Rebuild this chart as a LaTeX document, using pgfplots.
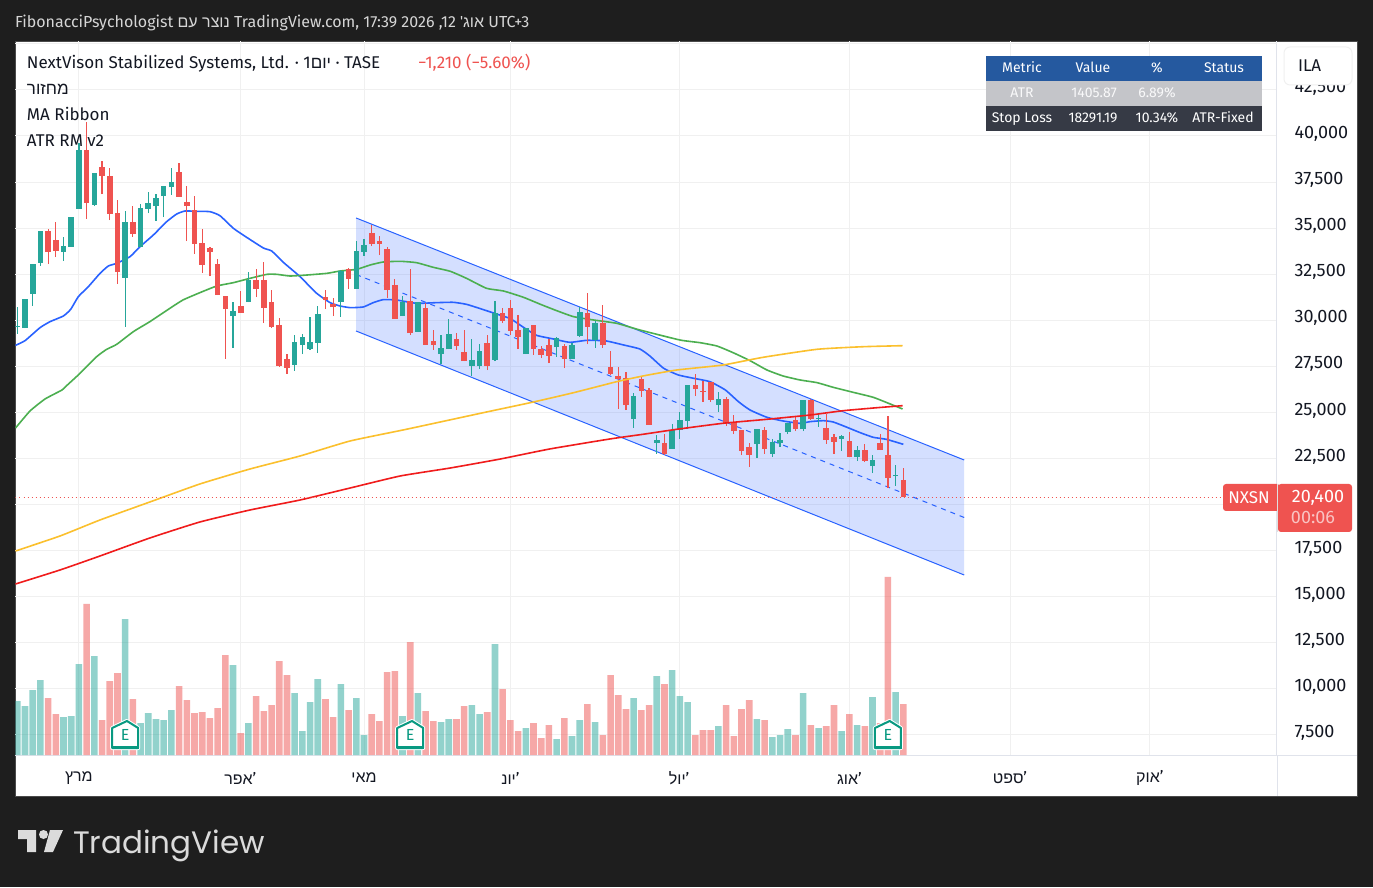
\documentclass[border=0pt]{standalone}
\usepackage{fontspec}
\usepackage{pgfplots}
\usepackage{pgfplotstable}
\pgfplotsset{compat=1.18}
\setmainfont{Fira Sans}
\newfontfamily\hebfont[Script=Hebrew]{Liberation Sans}
\newfontfamily\logofont{Poppins}
\TeXXeTstate=1
\newcommand\heb[1]{{\hebfont\beginR #1\endR}}
\newcommand\fs[1]{\fontsize{#1}{#1}\selectfont}

\definecolor{page}{HTML}{1E1E1E}
\definecolor{frame}{HTML}{4A4A4A}
\definecolor{gridc}{HTML}{F0F0F0}
\definecolor{sep}{HTML}{E0E3EB}
\definecolor{ink}{HTML}{131722}
\definecolor{tvred}{HTML}{EF5350}
\definecolor{tvteal}{HTML}{26A69A}
\definecolor{mablue}{HTML}{2962FF}
\definecolor{magreen}{HTML}{4CAF50}
\definecolor{mayellow}{HTML}{FBC02D}
\definecolor{mared}{HTML}{F01C1C}
\definecolor{earn}{HTML}{089981}
\definecolor{tabblue}{HTML}{25599F}
\definecolor{tabgrey}{HTML}{C4C5C9}
\definecolor{tabdark}{HTML}{363A45}

% i open high low close volume (volume as bar height)
\pgfplotstableread{
i o h l c v
0 29640 30740 29260 29690 54
1 29580 31155 29580 31155 49
2 31430 33050 30780 33050 65
3 33110 34850 32950 34850 75
6 33700 34520 33220 34030 38
7 33980 35600 33980 35600 39
8 36040 39620 36040 39240 91
10 36260 37990 36200 37990 99
14 32300 35930 29640 35330 136
16 33980 36310 33980 36090 32
17 36040 36960 35820 36360 42
18 36200 36850 35390 36640 36
19 36740 37290 35600 37290 35
20 37230 38260 36800 37500 45
28 30230 30990 28500 30500 90
30 30990 32620 30990 32190 32
36 27570 29200 27250 28820 62
37 28660 29260 28170 29090 24
38 28440 30180 28390 28820 53
39 28770 30780 28230 30340 76
42 30990 32730 30180 32680 71
44 31700 34300 31700 33760 57
45 33710 34410 33490 34090 20
50 30230 31320 30230 31010 39
52 29370 30990 29370 30990 62
55 28170 29200 27630 28500 33
56 28440 30070 28440 29260 36
59 27520 28980 26980 27850 50
60 27520 28710 27360 28330 41
62 27850 31050 27790 30400 111
66 28170 29580 28170 29580 27
70 28550 29090 28010 29040 16
72 27900 28770 27900 28660 19
73 29150 30720 29090 30450 35
75 28930 29960 28500 29850 33
80 24640 26060 24160 25890 57
83 23340 23780 22750 23510 79
85 23020 24370 23020 24050 85
86 24050 25020 23560 24590 59
87 24540 26490 24100 26490 53
91 25400 26110 25020 25730 29
96 23290 24100 22530 24100 36
98 22750 23560 22580 23400 18
99 23340 23890 23130 23510 20
100 23940 24430 23830 24430 26
102 24100 25680 23990 25680 62
104 24640 24970 24210 24700 27
107 23560 23780 22910 23720 24
109 22580 23180 22370 22960 30
111 22090 22690 21710 22420 58
114 21550 22150 21010 21610 63
}\upbars

\pgfplotstableread{
i o h l c v
4 34850 34950 33050 33700 57
5 34360 35330 33430 33760 41
9 39240 40760 35500 36360 151
11 38320 38640 36850 37830 35
12 37830 38260 35440 35770 74
13 35820 36530 31970 32620 82
15 35330 36200 34520 34680 56
21 38050 38530 36690 36690 69
22 36420 37290 34300 36200 55
23 35980 36740 33600 34140 42
24 34190 34950 32570 33000 43
25 33920 33980 32400 33700 37
26 33050 33330 31370 31370 47
27 31320 31320 27900 30610 100
29 30780 31590 30400 30400 22
31 32190 32780 31260 31700 59
32 32190 33160 29850 30670 44
33 30990 31640 29580 29640 50
34 29740 30120 27470 27520 94
35 27900 28170 27090 27410 80
40 31260 31640 30610 31100 56
41 30880 31210 30230 30720 38
43 32780 32840 31700 32240 45
46 34740 35170 34030 34140 41
47 34300 34570 33540 34140 34
48 33870 33980 31210 31640 83
49 31920 32240 30070 30070 84
51 31050 32780 29200 29310 113
53 30670 30940 28660 28660 44
54 28880 29470 28390 28660 34
57 28980 29310 28390 28610 36
58 28280 29470 27790 27790 49
61 28770 29200 27300 27520 43
63 30400 30670 29850 29960 66
64 30670 31100 29200 29420 35
65 29470 30290 28440 29090 24
67 29750 29750 28120 28440 32
68 28440 28610 27950 28120 17
69 28660 28980 27680 28060 30
71 28610 28710 27410 27900 37
74 30400 31480 28710 29640 51
76 29850 30830 28500 28660 20
77 27470 28330 27030 27090 80
78 26980 27470 25190 26820 60
79 26870 27180 25130 25400 46
81 26820 26920 25840 26160 45
82 26220 26330 24320 24320 50
84 23340 23830 22690 22750 71
88 26490 27090 25890 26270 20
89 26160 26710 25570 26110 25
90 26650 26650 25570 25680 25
92 25730 25840 24270 24430 50
93 24480 24860 23830 23990 19
94 24050 24050 22690 22910 46
95 23130 23340 22040 22690 55
97 24050 24210 22750 23020 35
101 24590 24750 23990 24100 20
103 25680 25730 24590 24640 30
105 24160 24920 23290 23510 29
106 23670 23830 22750 23400 50
108 23450 23940 22580 22580 41
110 22960 23290 22310 22370 29
112 23340 23830 22960 22960 32
113 22690 24810 20900 21440 178
115 21340 21990 20400 20400 51
}\downbars

\pgfdeclareplotmark{earnmark}{%
  \draw[white,fill=white,line width=4pt,line join=round] (0,14pt)--(13pt,7pt)--(13pt,-13pt)--(-13pt,-13pt)--(-13pt,7pt)--cycle;
  \draw[earn,fill=white,line width=2pt,line join=round] (0,14pt)--(13pt,7pt)--(13pt,-13pt)--(-13pt,-13pt)--(-13pt,7pt)--cycle;
  \fill[earn] (-13pt,-13pt) rectangle (13pt,-11pt);
}

\begin{document}
\begin{tikzpicture}[x=1pt,y=1pt]
  \useasboundingbox (0,0) rectangle (1373,887);
  \fill[page] (0,0) rectangle (1373,887);
  \fill[white,draw=frame,line width=1pt] (15.5,91) rectangle (1357.5,845.5);

  \begin{axis}[
      at={(15.5pt,132pt)}, anchor=south west,
      scale only axis, width=1261.5pt, height=713.5pt,
      xmin=-0.234, xmax=163.5, ymin=6413, ymax=45127,
      axis x line*=bottom, axis y line*=right,
      axis line style={draw=sep,line width=1pt,-},
      major tick length=0pt,
      grid=major, grid style={draw=gridc,line width=1pt},
      xtick={8,28.95,45,64,85.9,108,128.85,147},
      xticklabels={\heb{מרץ},\heb{אפר}',\heb{מאי},\heb{יונ}',\heb{יול}',\heb{אוג}',\heb{ספט}',\heb{אוק}'},
      xticklabel style={anchor=center,yshift=-23pt,font=\fs{16},text=ink},
      ytick={7500,10000,...,42500},
      extra y ticks={45000}, extra y tick labels={},
      yticklabel style={anchor=west,xshift=14pt,yshift=2pt,font=\fs{18},text=ink},
      scaled y ticks=false,
      /pgf/number format/.cd,1000 sep={,},assume math mode=true,
    ]
    % regression channel
    \addplot[draw=none,fill=mablue,fill opacity=0.2] coordinates {(43.97,35551)(122.9,22420)(122.9,16180)(43.97,29419)} -- cycle;
    \addplot[mablue,line width=1pt] coordinates {(43.97,35551)(122.9,22420)};
    \addplot[mablue,line width=1pt] coordinates {(43.97,29419)(122.9,16180)};
    \addplot[mablue,line width=1pt,dash pattern=on 5pt off 5pt] coordinates {(43.97,32485)(122.9,19300)};

    % moving averages
    \addplot[mablue,line width=1.6pt,smooth,tension=0.3] coordinates {(-0.23,28641)(1.0,28894)(2.95,29600)(4.25,29925)(5.98,30233)(6.93,30594)(7.92,31282)(9.22,31824)(10.74,32548)(11.82,32946)(12.9,33091)(14.63,33452)(15.93,33995)(17.66,34628)(19.39,35351)(20.69,35767)(21.77,35930)(23.29,35912)(25.0,35894)(26.3,35677)(28.05,34990)(29.77,34501)(31.94,33922)(33.02,33760)(34.53,33145)(36.7,32367)(38.86,31463)(40.6,30956)(41.9,30776)(43.2,30686)(44.9,30722)(46.2,30957)(47.5,31120)(49.2,31102)(51.8,30921)(54.4,30957)(56.6,30975)(58.3,30866)(60.1,30631)(62.2,30342)(64.0,30089)(65.7,29618)(67.4,29184)(69.6,28985)(71.7,28804)(73.9,28913)(76.1,28895)(76.9,28841)(78.7,28660)(80.8,28443)(82.1,28063)(83.9,27394)(85.8,27032)(87.8,26851)(89.9,26670)(91.9,26218)(93.6,25585)(95.1,25133)(97.3,24735)(99.4,24536)(101.6,24409)(102.9,24500)(104.6,24554)(105.9,24482)(107.7,24192)(109.4,23903)(111.1,23650)(112.8,23541)(115.0,23270)};
    \addplot[magreen,line width=1.6pt,smooth,tension=0.3] coordinates {(-0.23,24156)(1.65,25078)(3.6,25730)(5.8,26218)(6.4,26452)(8.14,27122)(10.3,28026)(11.6,28424)(12.9,28695)(15.06,29383)(17.2,29925)(19.8,30649)(21.5,31101)(23.7,31499)(25.9,31861)(28.05,32042)(30.2,32276)(32.4,32493)(33.7,32493)(35.4,32403)(37.6,32457)(40.2,32548)(41.9,32675)(44.05,32766)(45.8,33001)(47.5,33163)(49.7,33200)(51.8,33127)(54.0,32874)(56.2,32657)(58.3,32277)(60.9,31735)(63.1,31590)(65.7,31246)(67.9,30867)(70.0,30523)(72.2,30197)(74.8,30017)(77.8,29835)(80.8,29474)(86.0,28931)(88.6,28786)(90.8,28605)(92.9,28244)(95.1,27810)(97.3,27303)(99.4,26978)(101.6,26761)(103.8,26616)(105.9,26363)(108.5,26091)(111.1,25820)(113.3,25458)(114.9,25187)};

    % candles: wicks, then bodies
    \addplot[draw=none,mark=none,error bars/.cd,y dir=plus,y explicit,error mark=none,error bar style={draw=tvteal,line width=1.2pt}] table[x=i,y=l,y error plus expr=\thisrow{h}-\thisrow{l}] {\upbars};
    \addplot[draw=none,mark=none,error bars/.cd,y dir=plus,y explicit,error mark=none,error bar style={draw=tvteal,line width=5.6pt}] table[x=i,y=o,y error plus expr=\thisrow{c}-\thisrow{o}] {\upbars};
    \addplot[draw=none,mark=none,error bars/.cd,y dir=plus,y explicit,error mark=none,error bar style={draw=tvred,line width=1.2pt}] table[x=i,y=l,y error plus expr=\thisrow{h}-\thisrow{l}] {\downbars};
    \addplot[draw=none,mark=none,error bars/.cd,y dir=plus,y explicit,error mark=none,error bar style={draw=tvred,line width=5.6pt}] table[x=i,y=c,y error plus expr=\thisrow{o}-\thisrow{c}] {\downbars};

    \addplot[mayellow,line width=1.6pt,smooth,tension=0.3] coordinates {(-0.23,17482)(5.54,18296)(10.73,19164)(17.2,20141)(23.7,21118)(30.2,21931)(36.7,22637)(43.2,23451)(50.5,24086)(60.9,25024)(67.0,25567)(72.2,26072)(77.8,26669)(81.2,26978)(85.6,27303)(91.6,27574)(96.8,27992)(103.8,28426)(109.8,28567)(114.9,28622)};
    \addplot[mared,line width=1.6pt,smooth,tension=0.3] coordinates {(-0.23,15692)(5.54,16451)(10.73,17211)(17.2,18187)(23.7,19056)(30.2,19707)(36.7,20249)(43.2,20900)(49.7,21552)(56.2,21986)(62.7,22474)(69.1,23017)(76.9,23559)(81.2,23814)(85.6,24086)(91.6,24412)(97.3,24628)(102.9,24861)(107.2,25095)(111.6,25257)(114.9,25367)};

    % last price
    \addplot[tvred,line width=1pt,dash pattern=on 1pt off 3pt] coordinates {(-0.234,20400)(163.5,20400)};
  \end{axis}

  % volume pane, same bars, own scale
  \begin{axis}[
      at={(15.5pt,132pt)}, anchor=south west,
      scale only axis, width=1261.5pt, height=713.5pt,
      xmin=-0.234, xmax=163.5, ymin=0, ymax=713.5,
      hide axis, clip=true,
    ]
    \addplot[ybar,bar width=6.6pt,bar shift=0pt,draw=none,fill=tvteal,fill opacity=0.5] table[x=i,y=v] {\upbars};
    \addplot[ybar,bar width=6.6pt,bar shift=0pt,draw=none,fill=tvred,fill opacity=0.5] table[x=i,y=v] {\downbars};
    % earnings flags
    \addplot[only marks,mark=earnmark,nodes near coords={\fs{16}\textcolor{earn}{E}},nodes near coords style={anchor=center,inner sep=0pt,yshift=0pt}] coordinates {(14,20)(51,20)(113,20)};
  \end{axis}

  \begin{scope}[shift={(0,887)},y=-1pt,every node/.style={inner sep=0pt,outer sep=0pt}]
    % pane separators
    \draw[sep,line width=1pt] (1277,755) -- (1357,755);
    \draw[sep,line width=1pt] (1277,755) -- (1277,796);

    % header
    \node[anchor=base west,text=white!84!black] at (15,28) {\fs{16}FibonacciPsychologist \heb{נוצר עם} TradingView.com, 17:39 2026 ,12 \heb{אוג'} UTC+3};

    % legend
    \node[anchor=base west,text=ink] at (27,69) {\fs{17}NextVison Stabilized Systems, Ltd. · 1\heb{יום} · TASE};
    \node[anchor=base west,text=tvred] at (418,69) {\fs{17}−1,210 (−5.60\%)};
    \node[anchor=base west,text=ink] at (27,95) {\fs{17}\heb{מחזור}};
    \node[anchor=base west,text=ink] at (27,121) {\fs{17}MA Ribbon};
    \node[anchor=base west,text=ink] at (27,147) {\fs{17}ATR RM v2};

    % stats table
    \fill[tabblue] (986,56) rectangle (1262,81);
    \fill[tabgrey] (986,81) rectangle (1262,106);
    \fill[tabdark] (986,106) rectangle (1262,131);
    \foreach \tx/\ty/\tt in {1022/73/Metric,1093/73/Value,1157/73/\%,1224/73/Status}
      \node[anchor=base,text=white] at (\tx,\ty) {\fs{14}\tt};
    \foreach \tx/\ty/\tt in {1022/98/ATR,1094/98/1405.87,1157/98/6.89\%}
      \node[anchor=base,text=white!90!tabgrey] at (\tx,\ty) {\fs{14}\tt};
    \foreach \tx/\ty/\tt in {1022/123/Stop Loss,1093/123/18291.19,1157/123/10.34\%,1223/123/ATR-Fixed}
      \node[anchor=base,text=white] at (\tx,\ty) {\fs{14}\tt};

    % currency box
    \fill[white,draw=gridc,line width=1pt,rounded corners=6pt] (1284,47) rectangle (1352,85);
    \node[anchor=base west,text=ink] at (1298,72) {\fs{17}ILA};

    % price tags
    \fill[tvred,rounded corners=3pt] (1223,484) rectangle (1280,511);
    \fill[tvred,rounded corners=3pt] (1278,484) rectangle (1352,532);
    \draw[white!88!black,line width=1pt] (1277,484) -- (1277,532);
    \node[anchor=base,text=white] at (1249,504) {\fs{17}NXSN};
    \node[anchor=base,text=white] at (1318,503) {\fs{18}20,400};
    \node[anchor=base,text=white!65!tvred] at (1313,524) {\fs{18}00:06};

    % logo
    \fill[white!86!black] (18,830) -- (36,830) -- (36,852) -- (27,852) -- (27,839) -- (18,839) -- cycle;
    \fill[white!86!black] (43.5,834.5) circle (4.5);
    \fill[white!86!black] (50,830) -- (63,830) -- (53,852) -- (44,852) -- cycle;
    \node[anchor=base west,text=white!86!black] at (73,853) {\fs{31}\logofont TradingView};
  \end{scope}
\end{tikzpicture}
\end{document}
